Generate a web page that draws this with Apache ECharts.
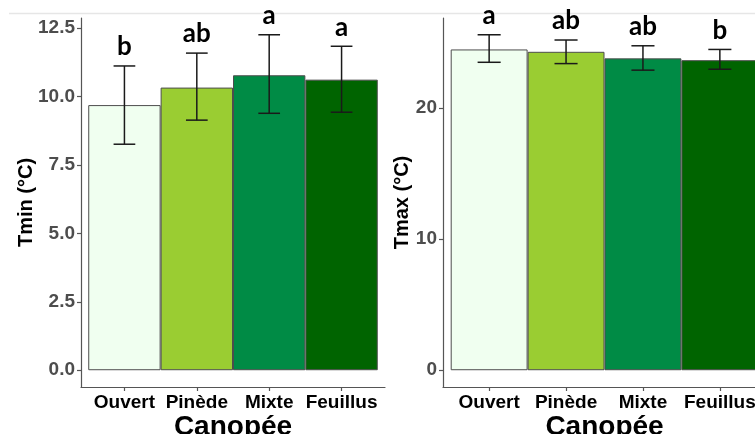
<!DOCTYPE html>
<html><head><meta charset="utf-8">
<script src="https://cdn.jsdelivr.net/npm/echarts@6/dist/echarts.min.js"></script>
<style>html,body{margin:0;padding:0;background:#fff}#c{width:755px;height:434px}</style>
</head><body><div id="c"></div>
<script>
const categories = ['Ouvert', 'Pinède', 'Mixte', 'Feuillus'];
const barColors = ['#F0FFF0', '#9ACD32', '#008B45', '#006400'];
const tminMean = [9.69, 10.33, 10.78, 10.62];
const tminLow = [8.26, 9.14, 9.39, 9.43];
const tminHigh = [11.12, 11.59, 12.26, 11.84];
const tminLetters = ['b', 'ab', 'a', 'a'];
const tmaxMean = [24.48, 24.30, 23.80, 23.66];
const tmaxLow = [23.50, 23.40, 22.90, 22.97];
const tmaxHigh = [25.60, 25.20, 24.76, 24.48];
const tmaxLetters = ['a', 'ab', 'ab', 'b'];
const tminTicks = [0, 2.5, 5, 7.5, 10, 12.5];
const tmaxTicks = [0, 10, 20];

const FONT = 'Liberation Sans';
const AXC = '#555555';
const chart = echarts.init(document.getElementById('c'), null, {renderer: 'canvas'});

function xAxisDef(gi) {
  return {
    type: 'value', gridIndex: gi, min: 0.4, max: 4.6,
    splitLine: {show: false},
    axisLine: {show: true, onZero: false, lineStyle: {color: AXC, width: 1.2}},
    axisTick: {show: true, length: 4, customValues: [1, 2, 3, 4], lineStyle: {color: AXC, width: 1.2}},
    axisLabel: {customValues: [1, 2, 3, 4], formatter: v => categories[Math.round(v) - 1] || '',
      color: '#000', fontFamily: FONT, fontWeight: 'bold', fontSize: 19, margin: 6},
    name: 'Canopée', nameLocation: 'middle', nameGap: 26, nameMoveOverlap: false,
    nameTextStyle: {color: '#000', fontFamily: FONT, fontWeight: 'bold', fontSize: 28}
  };
}
function yAxisDef(gi, high, ticks, name, gap, fmt) {
  const m = Math.max.apply(null, high);
  return {
    type: 'value', gridIndex: gi, min: -0.05 * m, max: 1.05 * m,
    splitLine: {show: false},
    axisLine: {show: true, lineStyle: {color: AXC, width: 1.2}},
    axisTick: {show: true, length: 4, customValues: ticks, lineStyle: {color: AXC, width: 1.2}},
    axisLabel: {customValues: ticks, formatter: fmt,
      color: '#4d4d4d', fontFamily: FONT, fontWeight: 'bold', fontSize: 19, margin: 6},
    name: name, nameLocation: 'middle', nameRotate: 90, nameGap: gap, nameMoveOverlap: false,
    nameTextStyle: {color: '#000', fontFamily: FONT, fontWeight: 'bold', fontSize: 20}
  };
}
function barSeries(gi, mean) {
  return {
    type: 'bar', xAxisIndex: gi, yAxisIndex: gi, barWidth: '100%', z: 2,
    data: mean.map((v, i) => ({value: [i + 1, v], itemStyle: {color: barColors[i]}})),
    itemStyle: {borderColor: '#4d4d4d', borderWidth: 1},
    silent: true
  };
}
function errSeries(gi, low, high, letters) {
  return {
    type: 'custom', xAxisIndex: gi, yAxisIndex: gi, clip: false, silent: true, z: 10,
    encode: {x: 0, y: [1, 2]},
    data: low.map((l, i) => [i + 1, l, high[i]]),
    renderItem: function (params, api) {
      const x = api.value(0);
      const lo = api.coord([x, api.value(1)]);
      const hi = api.coord([x, api.value(2)]);
      const hw = api.size([0.15, 0])[0];
      const st = {stroke: '#1a1a1a', lineWidth: 1.5};
      return {type: 'group', children: [
        {type: 'line', shape: {x1: lo[0], y1: lo[1], x2: hi[0], y2: hi[1]}, style: st},
        {type: 'line', shape: {x1: lo[0] - hw, y1: lo[1], x2: lo[0] + hw, y2: lo[1]}, style: st},
        {type: 'line', shape: {x1: hi[0] - hw, y1: hi[1], x2: hi[0] + hw, y2: hi[1]}, style: st},
        {type: 'text', x: hi[0], y: hi[1] - 6, style: {text: letters[params.dataIndex],
          fill: '#000', font: 'bold 26px Lato', textAlign: 'center', textVerticalAlign: 'bottom'}}
      ]};
    }
  };
}

chart.setOption({
  animation: false,
  backgroundColor: '#fff',
  grid: [
    {left: 81, top: 18, width: 304, height: 369, outerBoundsMode: 'none', containLabel: false},
    {left: 443, top: 18, width: 323, height: 369, outerBoundsMode: 'none', containLabel: false}
  ],
  xAxis: [xAxisDef(0), xAxisDef(1)],
  yAxis: [
    yAxisDef(0, tminHigh, tminTicks, 'Tmin (°C)', 45, v => v.toFixed(1)),
    yAxisDef(1, tmaxHigh, tmaxTicks, 'Tmax (°C)', 31, v => String(Math.round(v)))
  ],
  series: [
    barSeries(0, tminMean), errSeries(0, tminLow, tminHigh, tminLetters),
    barSeries(1, tmaxMean), errSeries(1, tmaxLow, tmaxHigh, tmaxLetters)
  ],
  graphic: [{type: 'line', shape: {x1: 9, y1: 13.5, x2: 755, y2: 13.5}, style: {stroke: '#e6e6e6', lineWidth: 1.5}, silent: true}]
});
</script></body></html>
